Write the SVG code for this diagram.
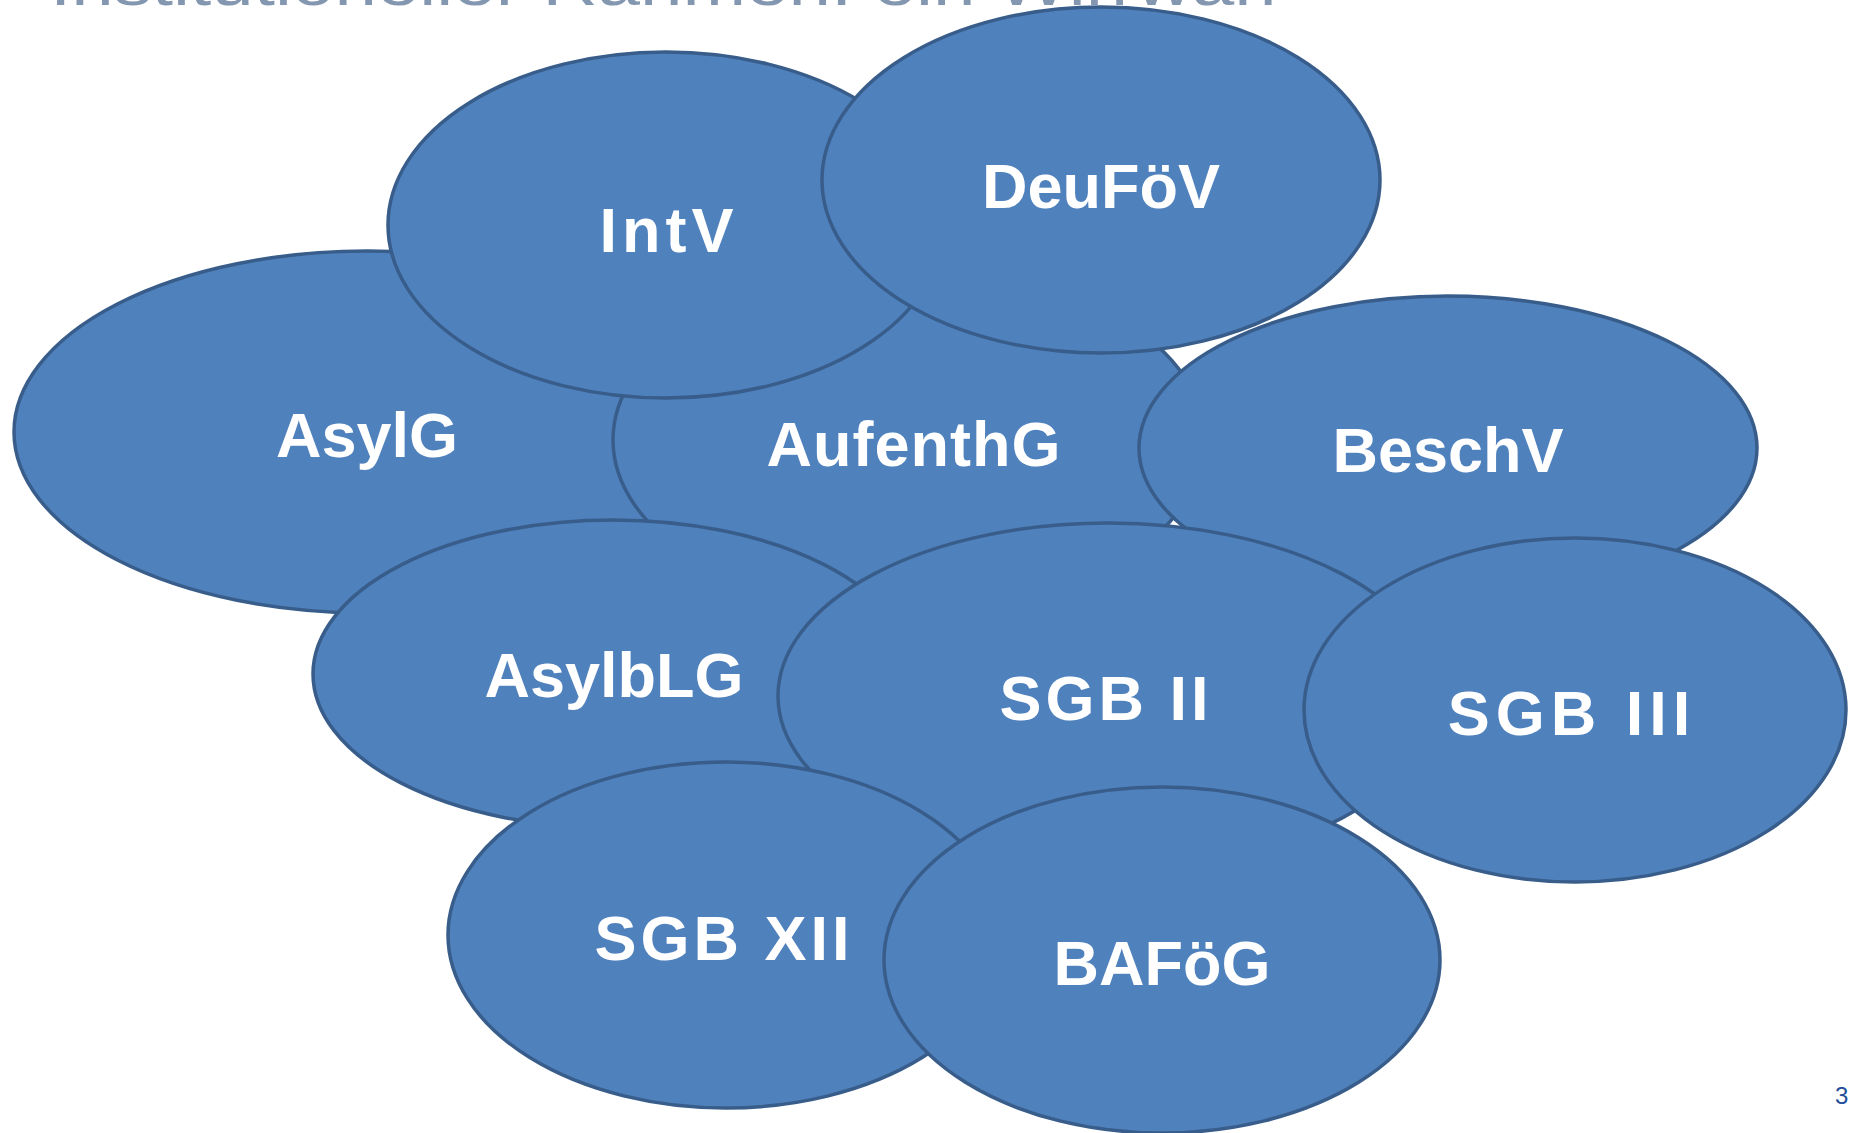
<svg xmlns="http://www.w3.org/2000/svg" width="1849" height="1133" viewBox="0 0 1849 1133">
<style>
.n ellipse{fill:#4f81bd;stroke:#385d8a;stroke-width:3.5}
.n text{fill:#ffffff;font-family:"Liberation Sans",Arial,sans-serif;font-weight:bold;font-size:63px;text-anchor:middle}
.title{fill:#8497b0;font-family:"Liberation Sans",Arial,sans-serif;font-size:62px}
.pg{fill:#1f4e9a;font-family:"Liberation Sans",Arial,sans-serif;font-size:24px}
</style>
<rect width="1849" height="1133" fill="#ffffff"/>
<text class="title" x="50" y="5" textLength="1235" lengthAdjust="spacingAndGlyphs">Institutioneller Rahmen: ein Wirrwarr</text>
<g id="connectors"></g>
<g id="asylg" class="n"><ellipse cx="367" cy="432" rx="353" ry="181"/><text x="367" y="457">AsylG</text></g>
<g id="aufenthg" class="n"><ellipse cx="909" cy="440" rx="296" ry="173"/><text x="914" y="466" letter-spacing="1">AufenthG</text></g>
<g id="intv" class="n"><ellipse cx="666" cy="225" rx="278" ry="173"/><text x="669" y="252" letter-spacing="5">IntV</text></g>
<g id="deufoev" class="n"><ellipse cx="1101" cy="180" rx="279" ry="173"/><text x="1101" y="208">DeuFöV</text></g>
<g id="beschv" class="n"><ellipse cx="1448" cy="448" rx="309" ry="152"/><text x="1448" y="472">BeschV</text></g>
<g id="asylblg" class="n"><ellipse cx="613" cy="674" rx="300" ry="154"/><text x="614" y="697">AsylbLG</text></g>
<g id="sgb2" class="n"><ellipse cx="1108" cy="696" rx="330" ry="173"/><text x="1106" y="720" letter-spacing="4">SGB II</text></g>
<g id="sgb3" class="n"><ellipse cx="1575" cy="710" rx="271" ry="172"/><text x="1572" y="735" letter-spacing="6">SGB III</text></g>
<g id="sgb12" class="n"><ellipse cx="726" cy="935" rx="278" ry="173"/><text x="724" y="960" letter-spacing="4">SGB XII</text></g>
<g id="bafoeg" class="n"><ellipse cx="1162" cy="960" rx="278" ry="173"/><text x="1162" y="985">BAFöG</text></g>
<text class="pg" x="1835" y="1104">3</text>
</svg>
